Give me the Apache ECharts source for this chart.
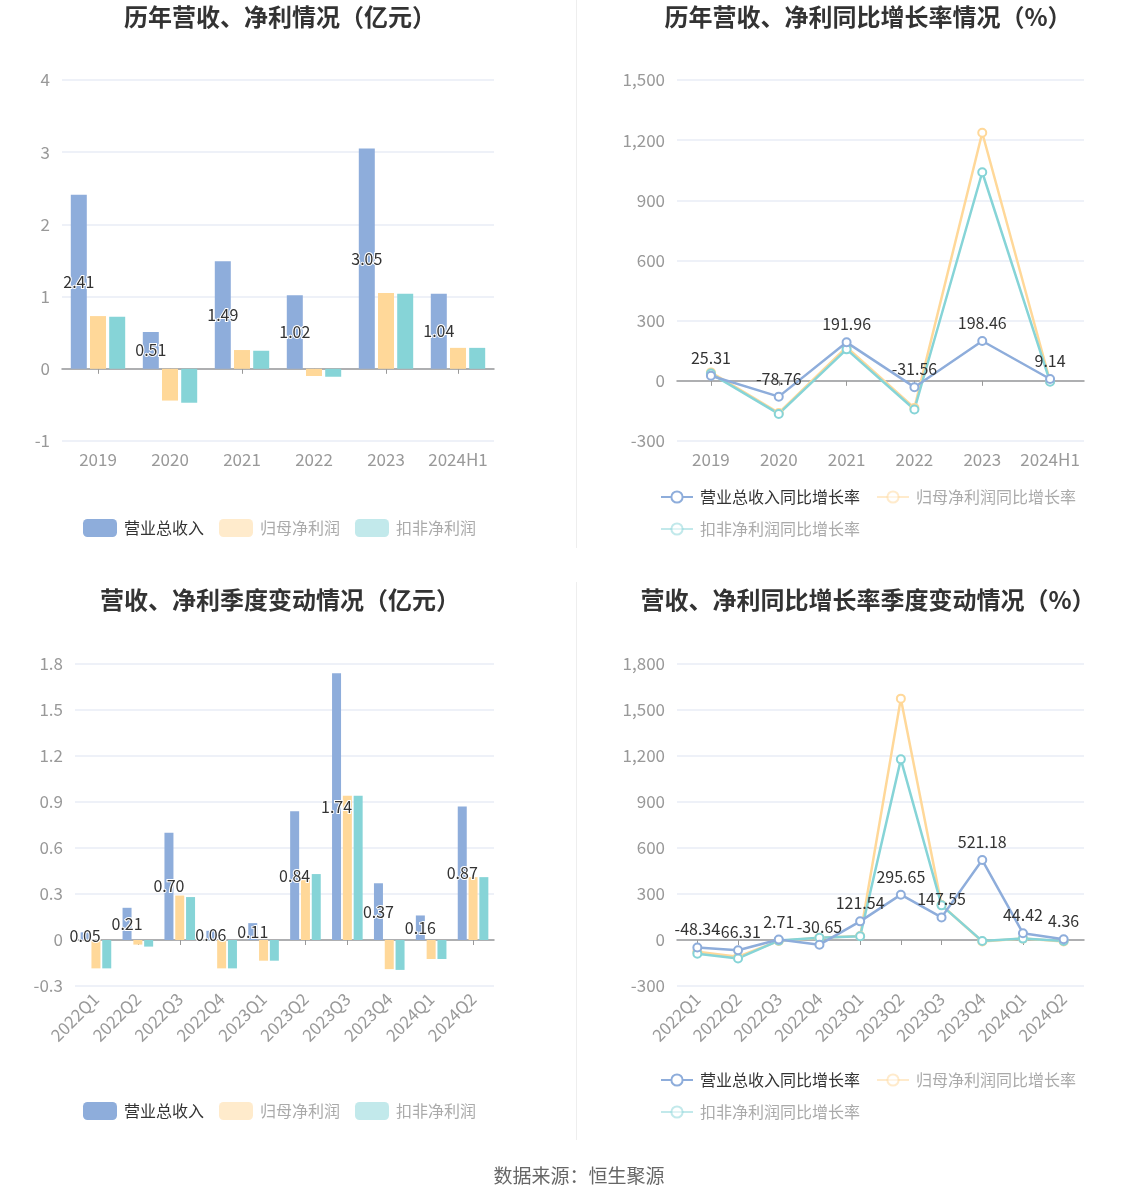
<!DOCTYPE html>
<html>
<head>
<meta charset="utf-8">
<script src="https://cdn.jsdelivr.net/npm/echarts@6/dist/echarts.min.js"></script>
<style>
html,body{margin:0;padding:0;background:#fff;}
#main{width:1148px;height:1202px;}
</style>
</head>
<body>
<div id="main"></div>
<script>
// ---- Data ----
var yearCats = ['2019', '2020', '2021', '2022', '2023', '2024H1'];
var yearRevenue = [2.41, 0.51, 1.49, 1.02, 3.05, 1.04];
var yearNetProfit = [0.73, -0.44, 0.26, -0.10, 1.05, 0.29];
var yearDeducted = [0.72, -0.47, 0.25, -0.11, 1.04, 0.29];

var yearRevenueGrowth = [25.31, -78.76, 191.96, -31.56, 198.46, 9.14];
var yearNetProfitGrowth = [42, -160, 168, -135, 1237, -2];
var yearDeductedGrowth = [36, -165, 157, -143, 1040, -5];

var quarterCats = ['2022Q1', '2022Q2', '2022Q3', '2022Q4', '2023Q1', '2023Q2', '2023Q3', '2023Q4', '2024Q1', '2024Q2'];
var qRevenue = [0.05, 0.21, 0.70, 0.06, 0.11, 0.84, 1.74, 0.37, 0.16, 0.87];
var qNetProfit = [-0.185, -0.03, 0.29, -0.185, -0.135, 0.39, 0.94, -0.19, -0.124, 0.41];
var qDeducted = [-0.185, -0.043, 0.28, -0.185, -0.135, 0.43, 0.94, -0.195, -0.124, 0.41];

var qRevenueGrowth = [-48.34, -66.31, 2.71, -30.65, 121.54, 295.65, 147.55, 521.18, 44.42, 4.36];
var qNetProfitGrowth = [-76, -109, -6, 15, 26, 1574, 228, -10, 9, -10];
var qDeductedGrowth = [-89, -120, -4, 15, 24, 1178, 226, -7, 9, -7];

var barNames = ['营业总收入', '归母净利润', '扣非净利润'];
var lineNames = ['营业总收入同比增长率', '归母净利润同比增长率', '扣非净利润同比增长率'];
var titles = ['历年营收、净利情况（亿元）', '历年营收、净利同比增长率情况（%）', '营收、净利季度变动情况（亿元）', '营收、净利同比增长率季度变动情况（%）'];
var sourceText = '数据来源：恒生聚源';

// ---- Styles ----
var C_BLUE = '#8eaddb', C_YEL = '#ffd899', C_TEAL = '#86d4d7';
var FONT = '"Noto Sans CJK SC", "Noto Sans", sans-serif';
var axisLabelColor = '#999';
var splitColor = '#e8ecf6';

var grids = [
  {left: 62, top: 80, width: 432, height: 361},
  {left: 677, top: 80, width: 407, height: 361},
  {left: 75, top: 664, width: 419, height: 322},
  {left: 677, top: 664, width: 407, height: 322}
];

var yRanges = [
  {min: -1, max: 4, interval: 1},
  {min: -300, max: 1500, interval: 300},
  {min: -0.3, max: 1.8, interval: 0.3},
  {min: -300, max: 1800, interval: 300}
];

var xAxes = [], yAxes = [];
[yearCats, yearCats, quarterCats, quarterCats].forEach(function (cats, i) {
  var rotate = i >= 2 ? 45 : 0;
  xAxes.push({
    type: 'category', gridIndex: i, data: cats, position: 'bottom',
    axisLine: {show: false, onZero: false},
    axisTick: {show: false},
    axisLabel: {color: axisLabelColor, fontSize: 17, fontFamily: FONT, rotate: rotate, margin: 10, interval: 0},
    splitLine: {show: false}
  });
  xAxes.push({
    type: 'category', gridIndex: i, data: cats, position: 'bottom',
    axisLine: {show: true, onZero: true, lineStyle: {color: '#999', width: 1.5}},
    axisTick: {show: true, alignWithLabel: true, interval: 0, length: 5, lineStyle: {color: '#999'}},
    axisLabel: {show: false},
    splitLine: {show: false}
  });
  yAxes.push({
    type: 'value', gridIndex: i,
    min: yRanges[i].min, max: yRanges[i].max, interval: yRanges[i].interval,
    axisLine: {show: false}, axisTick: {show: false},
    axisLabel: {color: axisLabelColor, fontSize: 17, fontFamily: FONT, margin: 12},
    splitLine: {lineStyle: {color: splitColor, width: 1.5}}
  });
});

function barSeries(gi, name, data, color, showLabel, bw) {
  return {
    type: 'bar', name: name, xAxisIndex: gi * 2, yAxisIndex: gi, data: data,
    barWidth: bw, barGap: '20%',
    itemStyle: {color: color},
    label: showLabel ? {
      show: true, position: 'inside', color: '#333', fontSize: 16, fontFamily: FONT,
      textBorderColor: '#fff', textBorderWidth: 2,
      formatter: function (p) { return p.value.toFixed(2); }
    } : {show: false},
    z: showLabel ? 3 : 2
  };
}
function lineSeries(gi, name, data, color, showLabel) {
  return {
    type: 'line', name: name, xAxisIndex: gi * 2, yAxisIndex: gi, data: data,
    symbol: 'emptyCircle', symbolSize: 8,
    lineStyle: {color: color, width: 2.5},
    itemStyle: {color: color, borderWidth: 2},
    label: showLabel ? {
      show: true, position: 'top', color: '#333', fontSize: 16, fontFamily: FONT,
      formatter: function (p) { return p.value.toFixed(2); }
    } : {show: false},
    z: showLabel ? 4 : 3
  };
}

var series = [
  barSeries(0, barNames[0], yearRevenue, C_BLUE, true, 16),
  barSeries(0, barNames[1], yearNetProfit, C_YEL, false, 16),
  barSeries(0, barNames[2], yearDeducted, C_TEAL, false, 16),
  lineSeries(1, lineNames[1], yearNetProfitGrowth, C_YEL, false),
  lineSeries(1, lineNames[2], yearDeductedGrowth, C_TEAL, false),
  lineSeries(1, lineNames[0], yearRevenueGrowth, C_BLUE, true),
  barSeries(2, barNames[0], qRevenue, C_BLUE, true, 9),
  barSeries(2, barNames[1], qNetProfit, C_YEL, false, 9),
  barSeries(2, barNames[2], qDeducted, C_TEAL, false, 9),
  lineSeries(3, lineNames[1], qNetProfitGrowth, C_YEL, false),
  lineSeries(3, lineNames[2], qDeductedGrowth, C_TEAL, false),
  lineSeries(3, lineNames[0], qRevenueGrowth, C_BLUE, true)
];

function barLegend(top) {
  return {
    left: 83, top: top, padding: 0, itemWidth: 34, itemHeight: 18, itemGap: 15,
    textStyle: {fontSize: 16, fontFamily: FONT, color: '#333', padding: [0, 0, 0, 2]},
    selectedMode: false,
    data: [
      {name: barNames[0], icon: 'roundRect', itemStyle: {color: C_BLUE}},
      {name: barNames[1], icon: 'roundRect', itemStyle: {color: C_YEL, opacity: 0.5}, textStyle: {color: '#aaa'}},
      {name: barNames[2], icon: 'roundRect', itemStyle: {color: C_TEAL, opacity: 0.5}, textStyle: {color: '#aaa'}}
    ]
  };
}
function lineLegend(top) {
  return {
    left: 660, top: top, padding: 0, width: 430, itemWidth: 32, itemHeight: 14, itemGap: 16,
    textStyle: {fontSize: 16, fontFamily: FONT, color: '#333', padding: [0, 0, 0, 2]},
    selectedMode: false,
    data: [
      {name: lineNames[0]},
      {name: lineNames[1], itemStyle: {opacity: 0.5}, lineStyle: {opacity: 0.5}, textStyle: {color: '#aaa'}},
      {name: lineNames[2], itemStyle: {opacity: 0.5}, lineStyle: {opacity: 0.5}, textStyle: {color: '#aaa'}}
    ]
  };
}

function titleAt(text, cx, top, size, bold, color) {
  return {
    text: text, left: cx, top: top, textAlign: 'center',
    textStyle: {fontSize: size, fontWeight: bold ? 'bold' : 'normal', color: color, fontFamily: FONT}
  };
}

var option = {
  backgroundColor: '#fff',
  animation: false,
  title: [
    titleAt(titles[0], 275, 0, 24, true, '#333'),
    titleAt(titles[1], 863, 0, 24, true, '#333'),
    titleAt(titles[2], 275, 583, 24, true, '#333'),
    titleAt(titles[3], 863, 583, 24, true, '#333'),
    titleAt(sourceText, 574, 1161, 19, false, '#666')
  ],
  legend: [barLegend(519), lineLegend(489), barLegend(1102), lineLegend(1072)],
  grid: grids,
  xAxis: xAxes,
  yAxis: yAxes,
  series: series,
  graphic: [
    {type: 'line', shape: {x1: 576.5, y1: 0, x2: 576.5, y2: 548}, style: {stroke: '#eee', lineWidth: 1}},
    {type: 'line', shape: {x1: 576.5, y1: 582, x2: 576.5, y2: 1140}, style: {stroke: '#eee', lineWidth: 1}}
  ]
};

var chart = echarts.init(document.getElementById('main'));
chart.setOption(option);
</script>
</body>
</html>
